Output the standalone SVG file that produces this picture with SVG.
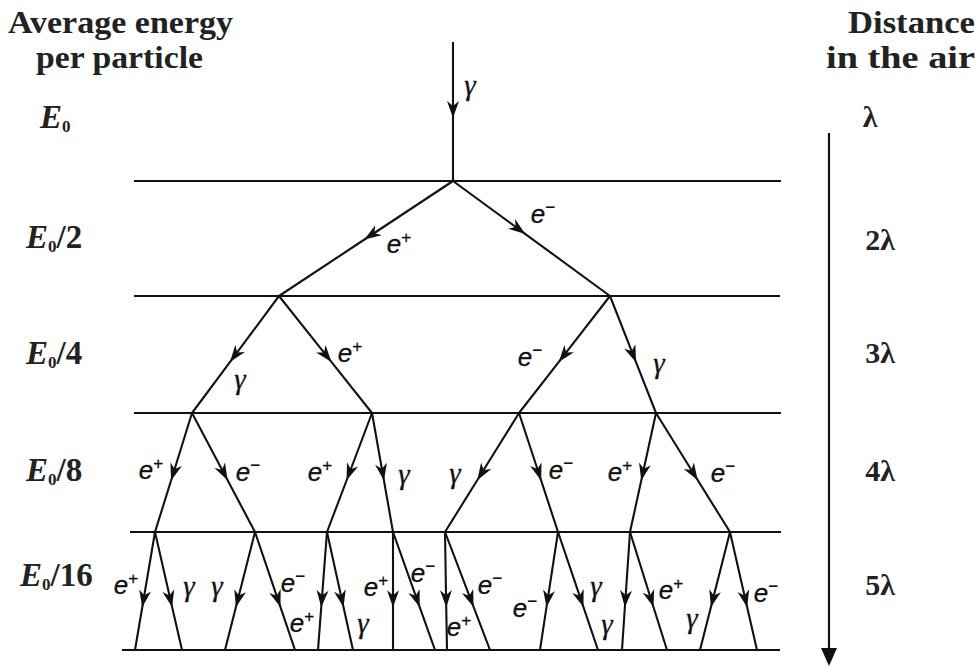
<svg xmlns="http://www.w3.org/2000/svg" width="979" height="669" viewBox="0 0 979 669">
<defs>
<marker id="ah" markerUnits="userSpaceOnUse" markerWidth="20" markerHeight="14" refX="0" refY="0" viewBox="-18 -7 20 14" orient="auto" overflow="visible">
<path d="M2,0 L-15,-6 L-10,0 L-15,6 Z" fill="#111"/>
</marker>
</defs>
<style>
.lvl{stroke:#111;stroke-width:1.8;fill:none}
.br{stroke:#111;stroke-width:2.1;fill:none;marker-mid:url(#ah)}
.hd{font-family:"Liberation Serif",serif;font-weight:bold;font-size:31px;fill:#222}
.en{font-family:"Liberation Serif",serif;font-weight:bold;font-size:33px;fill:#222}
.en .it{font-style:italic}
.en .sb{font-size:17px}
.ds{font-family:"Liberation Serif",serif;font-weight:bold;font-size:30px;fill:#222;text-anchor:middle}
.pl{font-family:"Liberation Sans",Arial,sans-serif;font-style:italic;font-size:26px;fill:#111;stroke:#111;stroke-width:0.3;text-anchor:middle}
.g{font-family:"Liberation Serif","Times New Roman",serif;font-style:italic;font-size:29px;fill:#111;stroke:#111;stroke-width:0.3;text-anchor:middle}
.pl .sp{font-size:17px;font-style:normal}
</style>
<rect width="979" height="669" fill="#fff"/>
<g id="headers">
<text class="hd" x="8" y="33" textLength="225" lengthAdjust="spacingAndGlyphs">Average energy</text>
<text class="hd" x="36" y="68" textLength="167" lengthAdjust="spacingAndGlyphs">per particle</text>
<text class="hd" x="848" y="33" textLength="127" lengthAdjust="spacingAndGlyphs">Distance</text>
<text class="hd" x="826" y="68" textLength="149" lengthAdjust="spacingAndGlyphs">in the air</text>
</g>
<g id="energy-labels">
<text class="en" x="40" y="128"><tspan class="it">E</tspan><tspan class="sb" dy="4">0</tspan></text>
<text class="en" x="26" y="248"><tspan class="it">E</tspan><tspan class="sb" dy="4">0</tspan><tspan dy="-4">/2</tspan></text>
<text class="en" x="26" y="364"><tspan class="it">E</tspan><tspan class="sb" dy="4">0</tspan><tspan dy="-4">/4</tspan></text>
<text class="en" x="26" y="481"><tspan class="it">E</tspan><tspan class="sb" dy="4">0</tspan><tspan dy="-4">/8</tspan></text>
<text class="en" x="20" y="586"><tspan class="it">E</tspan><tspan class="sb" dy="4">0</tspan><tspan dy="-4">/16</tspan></text>
</g>
<g id="distance-axis">
<line x1="829" y1="133" x2="829" y2="648" stroke="#111" stroke-width="2.2"/>
<path d="M821,648 L837,648 L829,666 Z" fill="#111"/>
<text class="ds" x="870" y="127">λ</text>
<text class="ds" x="880" y="250">2λ</text>
<text class="ds" x="880" y="363">3λ</text>
<text class="ds" x="880" y="481">4λ</text>
<text class="ds" x="880" y="595">5λ</text>
</g>
<g id="levels">
<line class="lvl" x1="134" y1="181" x2="781" y2="181"/>
<line class="lvl" x1="134" y1="296" x2="780" y2="296"/>
<line class="lvl" x1="134" y1="413" x2="781" y2="413"/>
<line class="lvl" x1="130" y1="532" x2="781" y2="532"/>
<line class="lvl" x1="122" y1="650" x2="780" y2="650"/>
</g>
<g id="connectors">
<path class="br" d="M453,42 L453,116 L453,181"/>
<path class="br" d="M453,181 L366,238.5 L279,296"/>
<path class="br" d="M453,181 L523.7,232.8 L610,296"/>
<path class="br" d="M279,296 L231.2,360.4 L192,413"/>
<path class="br" d="M279,296 L330.2,360.4 L372,413"/>
<path class="br" d="M610,296 L560,360.4 L519,413"/>
<path class="br" d="M610,296 L635.3,360.4 L656,413"/>
<path class="br" d="M192,413 L171.7,478.5 L155,532"/>
<path class="br" d="M192,413 L226.7,478.5 L255,532"/>
<path class="br" d="M372,413 L347.3,478.5 L327,532"/>
<path class="br" d="M372,413 L383.6,478.5 L393,532"/>
<path class="br" d="M519,413 L478.3,478.5 L445,532"/>
<path class="br" d="M519,413 L540.5,478.5 L558,532"/>
<path class="br" d="M656,413 L641.7,478.5 L630,532"/>
<path class="br" d="M656,413 L696.7,478.5 L730,532"/>
<path class="br" d="M155,532 L142.6,605.2 L135,650"/>
<path class="br" d="M155,532 L171.7,605.2 L182,650"/>
<path class="br" d="M255,532 L236.4,605.2 L225,650"/>
<path class="br" d="M255,532 L279.8,605.2 L295,650"/>
<path class="br" d="M327,532 L321.4,605.2 L318,650"/>
<path class="br" d="M327,532 L343.1,605.2 L353,650"/>
<path class="br" d="M393,532 L393,605.2 L393,650"/>
<path class="br" d="M393,532 L419,605.2 L435,650"/>
<path class="br" d="M445,532 L446.2,605.2 L447,650"/>
<path class="br" d="M445,532 L472.9,605.2 L490,650"/>
<path class="br" d="M558,532 L546.8,605.2 L540,650"/>
<path class="br" d="M558,532 L582.8,605.2 L598,650"/>
<path class="br" d="M630,532 L625,605.2 L622,650"/>
<path class="br" d="M630,532 L652.9,605.2 L667,650"/>
<path class="br" d="M730,532 L711.4,605.2 L700,650"/>
<path class="br" d="M730,532 L746.7,605.2 L757,650"/>
</g>
<g id="particle-labels">
<text class="g" x="470" y="95">γ</text>
<text class="pl" x="399" y="253">e<tspan class="sp" dy="-10">+</tspan></text>
<text class="pl" x="543" y="223">e<tspan class="sp" dy="-10">−</tspan></text>
<text class="g" x="240" y="389">γ</text>
<text class="pl" x="350" y="362">e<tspan class="sp" dy="-10">+</tspan></text>
<text class="pl" x="530" y="366">e<tspan class="sp" dy="-10">−</tspan></text>
<text class="g" x="659" y="373">γ</text>
<text class="pl" x="151" y="479">e<tspan class="sp" dy="-10">+</tspan></text>
<text class="pl" x="248" y="481">e<tspan class="sp" dy="-10">−</tspan></text>
<text class="pl" x="320" y="481">e<tspan class="sp" dy="-10">+</tspan></text>
<text class="g" x="404" y="484">γ</text>
<text class="g" x="455" y="483">γ</text>
<text class="pl" x="561" y="479">e<tspan class="sp" dy="-10">−</tspan></text>
<text class="pl" x="620" y="481">e<tspan class="sp" dy="-10">+</tspan></text>
<text class="pl" x="723" y="482">e<tspan class="sp" dy="-10">−</tspan></text>
<text class="pl" x="126" y="594">e<tspan class="sp" dy="-10">+</tspan></text>
<text class="g" x="189" y="596">γ</text>
<text class="g" x="217" y="596">γ</text>
<text class="pl" x="293" y="592">e<tspan class="sp" dy="-10">−</tspan></text>
<text class="pl" x="302" y="632">e<tspan class="sp" dy="-10">+</tspan></text>
<text class="g" x="363" y="633">γ</text>
<text class="pl" x="376" y="596">e<tspan class="sp" dy="-10">+</tspan></text>
<text class="pl" x="423" y="582">e<tspan class="sp" dy="-10">−</tspan></text>
<text class="pl" x="459" y="636">e<tspan class="sp" dy="-10">+</tspan></text>
<text class="pl" x="490" y="594">e<tspan class="sp" dy="-10">−</tspan></text>
<text class="pl" x="525" y="617">e<tspan class="sp" dy="-10">−</tspan></text>
<text class="g" x="596" y="596">γ</text>
<text class="g" x="607" y="634">γ</text>
<text class="pl" x="671" y="599">e<tspan class="sp" dy="-10">+</tspan></text>
<text class="g" x="692" y="628">γ</text>
<text class="pl" x="766" y="602">e<tspan class="sp" dy="-10">−</tspan></text>
</g>
</svg>
